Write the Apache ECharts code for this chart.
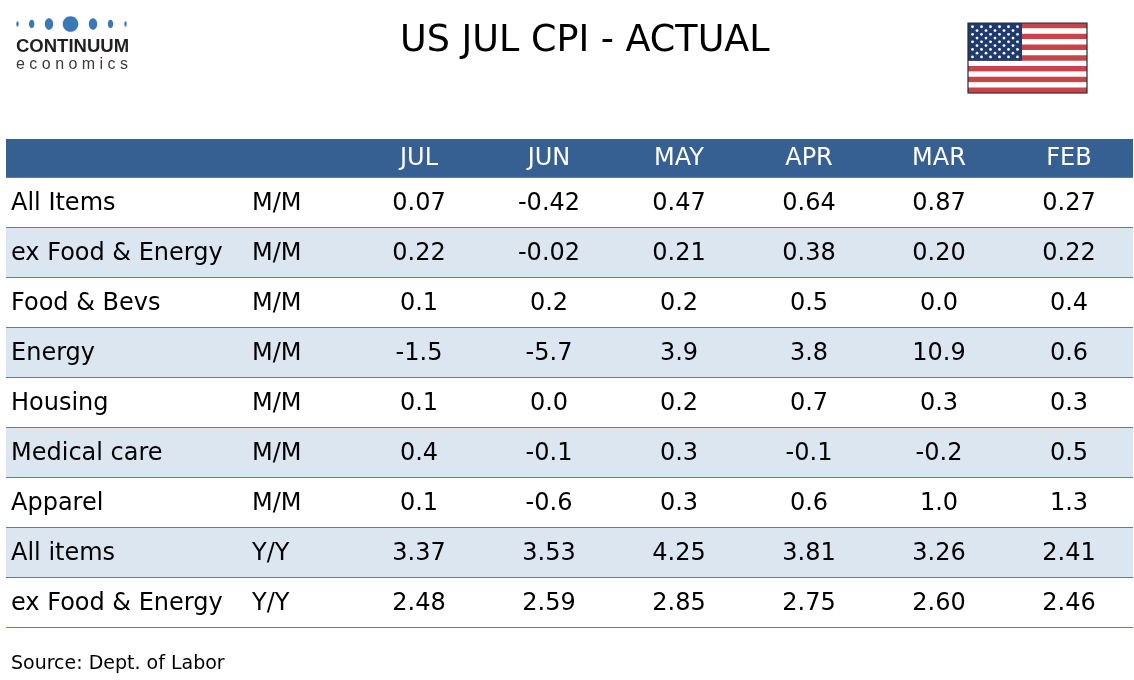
<!DOCTYPE html>
<html>
<head>
<meta charset="utf-8">
<script src="https://cdn.jsdelivr.net/npm/echarts@6/dist/echarts.min.js"></script>
<style>
html,body{margin:0;padding:0;background:#fff;}
#chart{width:1134px;height:680px;}
</style>
</head>
<body>
<div id="chart"></div>
<script>
// ---- data ----
var months = ['JUL', 'JUN', 'MAY', 'APR', 'MAR', 'FEB'];
var rowNames = ['All Items', 'ex Food & Energy', 'Food & Bevs', 'Energy', 'Housing', 'Medical care', 'Apparel', 'All items', 'ex Food & Energy'];
var rowUnits = ['M/M', 'M/M', 'M/M', 'M/M', 'M/M', 'M/M', 'M/M', 'Y/Y', 'Y/Y'];
var rowDecimals = [2, 2, 1, 1, 1, 1, 1, 2, 2];
var allItemsMM   = [0.07, -0.42, 0.47, 0.64, 0.87, 0.27];
var coreMM       = [0.22, -0.02, 0.21, 0.38, 0.20, 0.22];
var foodMM       = [0.1, 0.2, 0.2, 0.5, 0.0, 0.4];
var energyMM     = [-1.5, -5.7, 3.9, 3.8, 10.9, 0.6];
var housingMM    = [0.1, 0.0, 0.2, 0.7, 0.3, 0.3];
var medicalMM    = [0.4, -0.1, 0.3, -0.1, -0.2, 0.5];
var apparelMM    = [0.1, -0.6, 0.3, 0.6, 1.0, 1.3];
var allItemsYY   = [3.37, 3.53, 4.25, 3.81, 3.26, 2.41];
var coreYY       = [2.48, 2.59, 2.85, 2.75, 2.60, 2.46];
var titleText = 'US JUL CPI - ACTUAL';
var sourceText = 'Source: Dept. of Labor';

var rowValues = [allItemsMM, coreMM, foodMM, energyMM, housingMM, medicalMM, apparelMM, allItemsYY, coreYY];
var rowKeys = rowNames.map(function (n, i) { return 'r' + i; });

var cellData = [];
rowValues.forEach(function (vals, r) {
  vals.forEach(function (v, c) { cellData.push([c, r, v]); });
});

var FONT = '"DejaVu Sans", Verdana, sans-serif';

// ---- decorations (logo + flag) ----
var deco = [];
var dots = [[17.5, 1.2, 2.8], [31.7, 2.7, 4.2], [49, 4.2, 5.8], [70.5, 7.8, 7.8], [93, 4.2, 5.8], [110.5, 2.7, 4.2], [125.5, 1.2, 2.8]];
dots.forEach(function (d) {
  deco.push({ type: 'ellipse', shape: { cx: d[0], cy: 24, rx: d[1], ry: d[2] }, style: { fill: '#3a78b6' } });
});
deco.push({ type: 'text', left: 16, top: 37, style: { text: 'CONTINUUM', font: 'bold 18.5px "Liberation Sans", Arial, sans-serif', fill: '#231f20' } });
deco.push({ type: 'text', left: 16, top: 57, style: { text: 'e c o n o m i c s', font: '16px "Liberation Sans", Arial, sans-serif', fill: '#3a3a3a' } });

var fx = 968, fy = 23, fw = 119, fh = 70, sh = fh / 13;
var flagChildren = [];
for (var s = 0; s < 13; s++) {
  flagChildren.push({ type: 'rect', shape: { x: 0, y: s * sh, width: fw, height: sh + 0.2 }, style: { fill: s % 2 === 0 ? '#c8434b' : '#ffffff' } });
}
var cw = 54, ch = sh * 7;
flagChildren.push({ type: 'rect', shape: { x: 0, y: 0, width: cw, height: ch }, style: { fill: '#1f3a6c' } });
for (var sr = 0; sr < 9; sr++) {
  var n = sr % 2 === 0 ? 6 : 5;
  for (var sc = 0; sc < n; sc++) {
    var sx = (sr % 2 === 0 ? cw / 12 : cw / 6) + sc * cw / 6;
    var sy = ch / 10 * (sr + 1);
    flagChildren.push({ type: 'circle', shape: { cx: sx, cy: sy, r: 1.4 }, style: { fill: '#ffffff' } });
  }
}
flagChildren.push({ type: 'rect', shape: { x: 0, y: 0, width: fw, height: fh }, style: { fill: 'none', stroke: '#2a2a2a', lineWidth: 1.2 } });
deco.push({ type: 'group', x: fx, y: fy, children: flagChildren });

deco.push({ type: 'text', left: 11, top: 655, style: { text: sourceText, font: '19px ' + FONT, fill: '#000000' } });

var chart = echarts.init(document.getElementById('chart'));
chart.setOption({
  backgroundColor: '#ffffff',
  animation: false,
  title: {
    text: titleText,
    left: 395, top: 18,
    textStyle: { fontFamily: FONT, fontSize: 36.5, fontWeight: 'normal', color: '#000000' }
  },
  grid: [
    { left: 6, right: 1, top: 177, bottom: 53 },
    { left: 354, right: -2, top: 177, bottom: 53 }
  ],
  xAxis: [
    {
      gridIndex: 0, type: 'value', min: 0, max: 1, position: 'top', offset: 19,
      axisLine: { show: true, lineStyle: { color: '#376092', width: 38, cap: 'butt' } },
      axisTick: { show: false }, axisLabel: { show: false }, splitLine: { show: false }
    },
    {
      gridIndex: 1, type: 'category', data: months, position: 'top',
      axisLine: { show: false }, axisTick: { show: false }, splitLine: { show: false },
      axisLabel: { color: '#ffffff', fontFamily: FONT, fontSize: 24, margin: 18, verticalAlign: 'middle' }
    }
  ],
  yAxis: [
    {
      gridIndex: 0, type: 'category', data: rowKeys, inverse: true,
      axisLine: { show: false }, axisTick: { show: false },
      splitLine: { show: true, lineStyle: { color: '#5b7da8', width: 1.2 } },
      splitArea: { show: true, areaStyle: { color: ['#ffffff', '#dce6f1'] } },
      axisLabel: {
        inside: true, margin: 5, padding: [4, 0, 0, 0],
        formatter: function (v, i) { return '{a|' + rowNames[i] + '}{b|' + rowUnits[i] + '}'; },
        rich: {
          a: { width: 241, fontFamily: FONT, fontSize: 24, color: '#000000' },
          b: { fontFamily: FONT, fontSize: 24, color: '#000000' }
        }
      }
    },
    {
      gridIndex: 1, type: 'category', data: rowKeys, inverse: true, show: false
    }
  ],
  series: [
    {
      type: 'scatter', xAxisIndex: 1, yAxisIndex: 1, symbolSize: 0, silent: true,
      itemStyle: { opacity: 1 },
      data: cellData,
      label: {
        show: true, position: 'inside', offset: [0, 2],
        fontFamily: FONT, fontSize: 24, color: '#000000',
        formatter: function (p) { return p.value[2].toFixed(rowDecimals[p.value[1]]); }
      }
    }
  ],
  graphic: deco
});
</script>
</body>
</html>
